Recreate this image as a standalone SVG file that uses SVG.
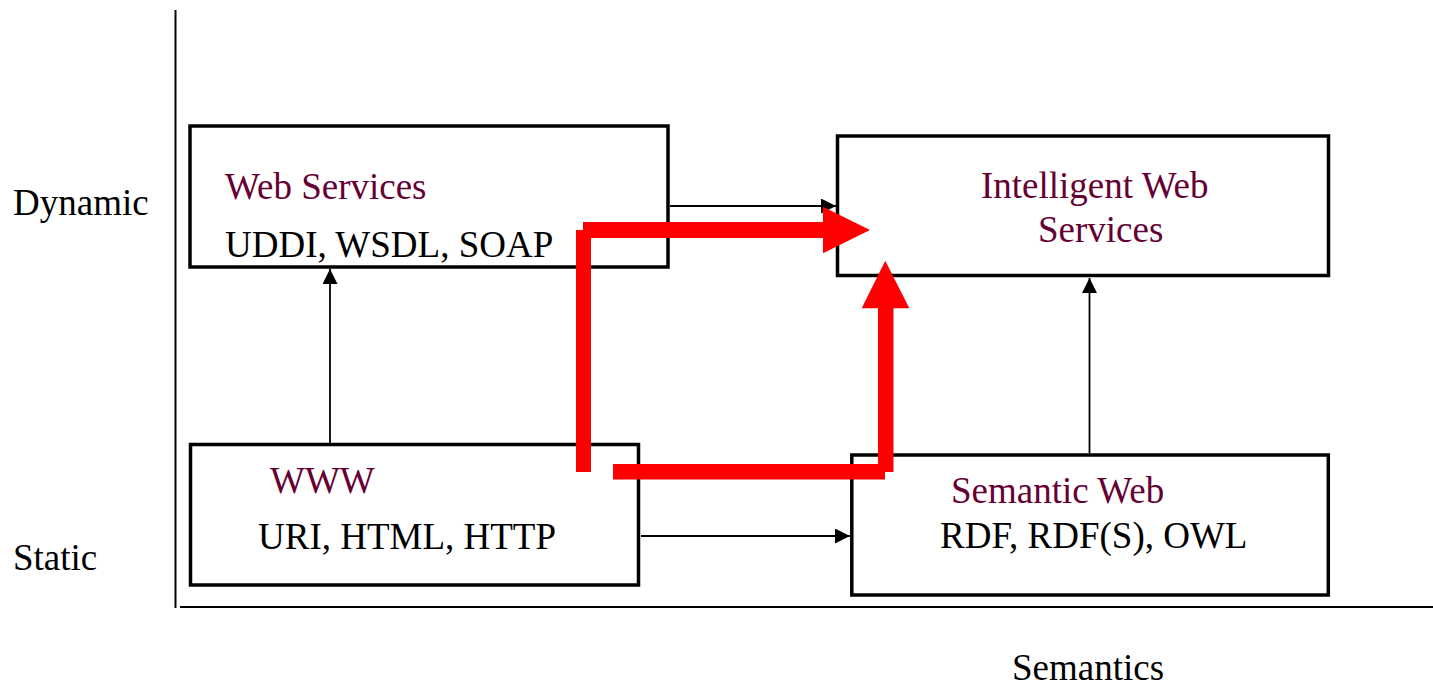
<svg xmlns="http://www.w3.org/2000/svg" width="1433" height="686" viewBox="0 0 1433 686">
  <style>
    .box { fill: #ffffff; stroke: #000000; stroke-width: 3.5; }
    .axis { stroke: #000000; stroke-width: 2; fill: none; }
    .link { stroke: #000000; stroke-width: 1.8; fill: none; }
    .path { fill: #ff0000; }
    text { font-family: "Liberation Serif", "Times New Roman", serif; font-size: 37px; fill: #000000; }
    .title { fill: #660033; }
  </style>
  <defs>
    <marker id="tip" markerUnits="userSpaceOnUse" markerWidth="16" markerHeight="16" refX="15" refY="7.5" orient="auto">
      <path d="M0,0 L15,7.5 L0,15 Z" fill="#000000"/>
    </marker>
  </defs>

  <rect width="1433" height="686" fill="#ffffff"/>

  <!-- axes -->
  <g id="axes">
    <line class="axis" x1="175.5" y1="10" x2="175.5" y2="608"/>
    <line class="axis" x1="180" y1="607" x2="1433" y2="607"/>
    <text x="13" y="215">Dynamic</text>
    <text x="13" y="570">Static</text>
    <text x="1012" y="680">Semantics</text>
  </g>

  <!-- nodes -->
  <g id="web-services">
    <rect class="box" x="190" y="126" width="478" height="141"/>
    <text class="title" x="225" y="199">Web Services</text>
    <text x="225" y="257">UDDI, WSDL, SOAP</text>
  </g>
  <g id="intelligent-web-services">
    <rect class="box" x="837.5" y="136" width="491" height="139.5"/>
    <text class="title" x="981" y="198">Intelligent Web</text>
    <text class="title" x="1038" y="242">Services</text>
  </g>
  <g id="www">
    <rect class="box" x="190.5" y="444.5" width="448" height="140.5"/>
    <text class="title" x="270" y="493">WWW</text>
    <text x="258" y="549">URI, HTML, HTTP</text>
  </g>
  <g id="semantic-web">
    <rect class="box" x="851.8" y="455" width="476.5" height="140"/>
    <text class="title" x="951" y="503">Semantic Web</text>
    <text x="940" y="548">RDF, RDF(S), OWL</text>
  </g>

  <!-- connectors -->
  <g id="connectors">
    <line class="link" x1="670" y1="206" x2="836" y2="206" marker-end="url(#tip)"/>
    <line class="link" x1="330" y1="443" x2="330" y2="269" marker-end="url(#tip)"/>
    <line class="link" x1="641" y1="536" x2="850" y2="536" marker-end="url(#tip)"/>
    <line class="link" x1="1089.5" y1="453" x2="1089.5" y2="278" marker-end="url(#tip)"/>
  </g>

  <!-- highlighted routes -->
  <g id="routes">
    <rect class="path" x="576" y="230" width="15" height="242"/>
    <rect class="path" x="583" y="222" width="241" height="16"/>
    <polygon class="path" points="823,206.7 870,230 823,253.3"/>
    <rect class="path" x="613" y="464" width="272" height="15.5"/>
    <rect class="path" x="878" y="306" width="15.5" height="166"/>
    <polygon class="path" points="861.7,308.3 885.3,260.7 909.3,308.3"/>
  </g>
</svg>
